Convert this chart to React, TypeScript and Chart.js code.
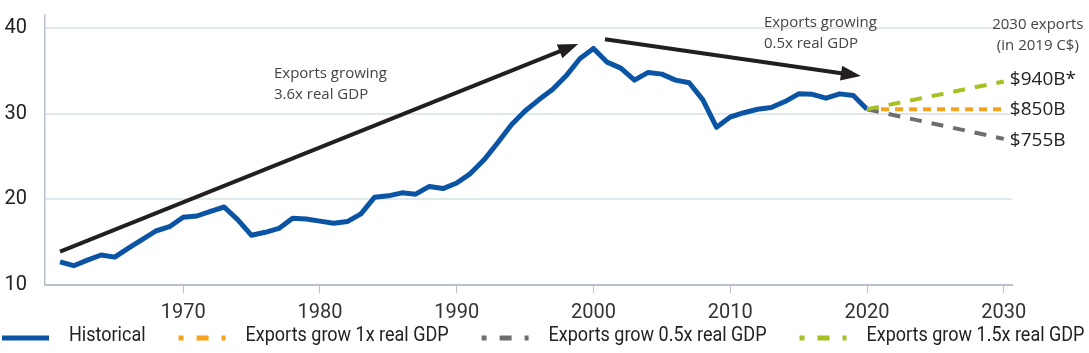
import React, { useEffect, useRef } from "react";
import { Chart, registerables } from "chart.js";

Chart.register(...registerables);

// ---------- data ----------
const histYears = [
  1961, 1962, 1963, 1964, 1965, 1966, 1967, 1968, 1969, 1970,
  1971, 1972, 1973, 1974, 1975, 1976, 1977, 1978, 1979, 1980,
  1981, 1982, 1983, 1984, 1985, 1986, 1987, 1988, 1989, 1990,
  1991, 1992, 1993, 1994, 1995, 1996, 1997, 1998, 1999, 2000,
  2001, 2002, 2003, 2004, 2005, 2006, 2007, 2008, 2009, 2010,
  2011, 2012, 2013, 2014, 2015, 2016, 2017, 2018, 2019, 2020,
];
const historical = [
  12.7, 12.25, 12.9, 13.5, 13.25, 14.3, 15.3, 16.3, 16.8, 17.9,
  18.05, 18.6, 19.1, 17.6, 15.8, 16.15, 16.6, 17.8, 17.7, 17.45,
  17.2, 17.4, 18.3, 20.25, 20.4, 20.75, 20.6, 21.5, 21.25, 21.9,
  23.0, 24.6, 26.6, 28.7, 30.3, 31.6, 32.8, 34.4, 36.4, 37.6,
  36.0, 35.3, 33.9, 34.8, 34.6, 33.9, 33.6, 31.6, 28.4, 29.6,
  30.1, 30.5, 30.7, 31.4, 32.3, 32.25, 31.8, 32.3, 32.1, 30.5,
];
const forecastYears = [2020, 2030];
const grow1x = [30.5, 30.5];
const grow05x = [30.5, 27.05];
const grow15x = [30.5, 33.75];

const xTicks = [1970, 1980, 1990, 2000, 2010, 2020, 2030];
const yTicks = [10, 20, 30, 40];

const legendLabels = [
  "Historical",
  "Exports grow 1x real GDP",
  "Exports grow 0.5x real GDP",
  "Exports grow 1.5x real GDP",
];
const endLabels = ["", "$850B", "$755B", "$940B*"];

// annotation arrows (data units)
const arrowStarts = [[1961.0, 13.9], [2000.84, 38.67]];
const arrowEnds = [[1998.88, 38.12], [2019.55, 34.38]];

// text notes (data units)
const noteAnchors = [[1976.64, 34.62], [2012.46, 40.57], [2032.49, 40.33]];
const noteLines = [
  ["Exports growing", "3.6x real GDP"],
  ["Exports growing", "0.5x real GDP"],
  ["2030 exports", "(in 2019 C$)"],
];
const noteAlign = ["left", "left", "center"];

// ---------- styles ----------
const TICKFONT = "Roboto, 'Noto Sans', sans-serif";
const SANS = "'Open Sans', 'Noto Sans', sans-serif";
const COLORS = ["#0b54a4", "#f7a21b", "#6d6e70", "#a8c023"];
const DASHES = [[], [8, 6], [12, 10], [12, 10]];
const LEGEND_DASH = [12, 13];
const LEGEND_SQUEEZE = 0.9;
const END_LABEL_NUDGE = [0, 0, 2, -2];

const overlayPlugin = {
  id: "overlay",
  afterDraw(chart: any) {
    const ctx = chart.ctx;
    const xs = chart.scales.x;
    const ys = chart.scales.y;
    ctx.save();

    // arrows
    ctx.strokeStyle = "#231f20";
    ctx.fillStyle = "#231f20";
    ctx.lineWidth = 4;
    ctx.lineCap = "butt";
    for (let i = 0; i < arrowStarts.length; i++) {
      const x0 = xs.getPixelForValue(arrowStarts[i][0]);
      const y0 = ys.getPixelForValue(arrowStarts[i][1]);
      const x1 = xs.getPixelForValue(arrowEnds[i][0]);
      const y1 = ys.getPixelForValue(arrowEnds[i][1]);
      const ang = Math.atan2(y1 - y0, x1 - x0);
      const headLen = 20;
      const headW = 7.5;
      const bx = x1 - headLen * Math.cos(ang);
      const by = y1 - headLen * Math.sin(ang);
      ctx.beginPath();
      ctx.moveTo(x0, y0);
      ctx.lineTo(bx + 2 * Math.cos(ang), by + 2 * Math.sin(ang));
      ctx.stroke();
      ctx.beginPath();
      ctx.moveTo(x1, y1);
      ctx.lineTo(bx + headW * Math.sin(ang), by - headW * Math.cos(ang));
      ctx.lineTo(bx - headW * Math.sin(ang), by + headW * Math.cos(ang));
      ctx.closePath();
      ctx.fill();
    }

    // notes
    ctx.font = `15px ${SANS}`;
    ctx.fillStyle = "#444444";
    ctx.textBaseline = "middle";
    for (let i = 0; i < noteAnchors.length; i++) {
      const x = xs.getPixelForValue(noteAnchors[i][0]);
      const y = ys.getPixelForValue(noteAnchors[i][1]);
      ctx.textAlign = noteAlign[i];
      noteLines[i].forEach((t, j) => ctx.fillText(t, x, y + j * 21));
    }

    // end labels
    ctx.font = `19px ${SANS}`;
    ctx.fillStyle = "#222222";
    ctx.textAlign = "left";
    chart.data.datasets.forEach((ds: any, i: number) => {
      if (!endLabels[i]) return;
      const meta = chart.getDatasetMeta(i);
      const pt = meta.data[meta.data.length - 1];
      ctx.fillText(endLabels[i], pt.x + 6, pt.y + END_LABEL_NUDGE[i]);
    });

    // legend
    const ly = chart.height - 17;
    let x = 2;
    ctx.font = `20px ${TICKFONT}`;
    ctx.textBaseline = "middle";
    ctx.textAlign = "left";
    ctx.fillStyle = "#222222";
    legendLabels.forEach((label, i) => {
      ctx.beginPath();
      ctx.strokeStyle = COLORS[i];
      ctx.lineWidth = 5;
      if (i === 0) {
        ctx.setLineDash([]);
      } else {
        ctx.setLineDash(LEGEND_DASH);
        ctx.lineDashOffset = 7;
      }
      ctx.moveTo(x, ly + 2);
      ctx.lineTo(x + 47, ly + 2);
      ctx.stroke();
      ctx.setLineDash([]);
      const tx = x + 67;
      ctx.save();
      ctx.translate(tx, ly);
      ctx.scale(LEGEND_SQUEEZE, 1);
      ctx.fillText(label, 0, 0);
      ctx.restore();
      x = tx + ctx.measureText(label).width * LEGEND_SQUEEZE + 33;
    });

    ctx.restore();
  },
};

export default function App() {
  const ref = useRef<HTMLCanvasElement | null>(null);

  useEffect(() => {
    document.body.style.margin = "0";
    const canvas = ref.current;
    if (!canvas) return;
    const toPts = (xsArr: number[], ysArr: number[]) => xsArr.map((x, i) => ({ x, y: ysArr[i] }));
    const series = [
      toPts(histYears, historical),
      toPts(forecastYears, grow1x),
      toPts(forecastYears, grow05x),
      toPts(forecastYears, grow15x),
    ];
    const chart = new Chart(canvas, {
      type: "line",
      data: {
        datasets: series.map((d, i) => ({
          label: legendLabels[i],
          data: d,
          borderColor: COLORS[i],
          backgroundColor: COLORS[i],
          borderWidth: i === 0 ? 5 : 4,
          borderDash: DASHES[i],
          borderCapStyle: "butt",
          borderJoinStyle: "round",
          pointRadius: 0,
          tension: 0,
          fill: false,
          order: [3, 2, 1, 0][i],
        })),
      },
      options: {
        animation: false,
        responsive: false,
        devicePixelRatio: 1,
        layout: { padding: { left: 0, right: 77, top: 15, bottom: 0 } },
        plugins: { legend: { display: false }, tooltip: { enabled: false } },
        scales: {
          x: {
            type: "linear",
            min: 1959.9,
            max: 2030.6,
            afterBuildTicks: (s: any) => {
              s.ticks = xTicks.map((v) => ({ value: v }));
            },
            afterFit: (s: any) => {
              s.height = 68;
              s.paddingLeft = 0;
              s.paddingRight = 0;
            },
            ticks: {
              color: "#333333",
              font: { family: TICKFONT, size: 20 },
              padding: 8,
              maxRotation: 0,
              autoSkip: false,
              callback: (v: any) => String(v),
            },
            grid: { drawOnChartArea: false, drawTicks: true, tickLength: 8, color: "#b9c2cb", lineWidth: 1 },
            border: { display: true, color: "#b9c2cb", width: 2 },
          },
          y: {
            type: "linear",
            min: 10,
            max: 41.5,
            afterBuildTicks: (s: any) => {
              s.ticks = yTicks.map((v) => ({ value: v }));
            },
            afterFit: (s: any) => {
              s.width = 45;
              s.paddingTop = 0;
              s.paddingBottom = 0;
            },
            ticks: {
              color: "#222222",
              font: { family: TICKFONT, size: 20 },
              padding: 18,
              callback: (v: any) => String(v),
            },
            grid: {
              drawTicks: false,
              lineWidth: 2,
              color: (c: any) => (c.tick && c.tick.value === 10 ? "rgba(0,0,0,0)" : "#dfe8ec"),
            },
            border: { display: true, color: "#b9c2cb", width: 1.5 },
          },
        },
      },
      plugins: [overlayPlugin],
    });
    return () => chart.destroy();
  }, []);

  return (
    <div style={{ width: 1089, height: 353 }}>
      <canvas ref={ref} width={1089} height={353} style={{ display: "block" }} />
    </div>
  );
}
